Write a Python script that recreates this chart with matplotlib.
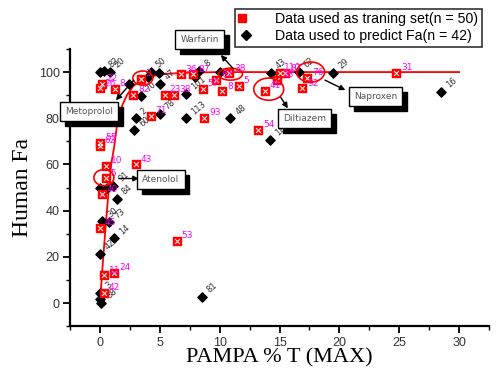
import matplotlib
matplotlib.use("Agg")
import matplotlib.pyplot as plt
from matplotlib.patches import Ellipse
from matplotlib.lines import Line2D
from matplotlib.legend_handler import HandlerTuple
from matplotlib.ticker import MultipleLocator

# ---- data ----
train_x = [0.17, 0.0, 1.25, 0.0, 0.0, 0.5, 3.0, 0.5, 0.17, 0.0, 0.33, 1.2, 0.33, 6.4,
           2.8, 3.4, 5.4, 6.2, 6.75, 7.8, 8.6, 4.25, 8.7, 9.7, 10.2, 11.6, 10.8,
           15.0, 15.5, 14.8, 13.8, 17.3, 16.9, 24.75, 13.2]
train_y = [95, 93, 92.6, 69.5, 68, 59.5, 60, 54, 47, 32.5, 12, 13, 4.3, 27,
           90, 97, 90, 90, 99, 99, 92.6, 81, 80.3, 96.5, 91.7, 94, 99.5,
           99.7, 99.5, 96.5, 92, 97.6, 93, 99.7, 75]
train_lbl = ["22", "26", "8", "55", "62", "10", "43", "5", "40", "45", "11", "24", "42", "53",
             "82", "3", "23", "38", "36", "87", "57", "71", "93", "67", "8", "5", "38",
             "110", "87", "28", "41", "76", "92", "31", "54"]

pred_x = [0.0, 0.3, 0.8, 2.4, 3.4, 3.0, 2.85, 4.25, 4.9, 5.0, 7.2, 7.2, 10.9, 5.0,
          7.9, 8.3, 10.0, 14.3, 16.6, 19.5, 28.5, 14.2, 0.0, 0.6, 1.1, 1.4, 0.17,
          0.75, 1.2, 0.0, 0.0, 0.0, 0.1, 8.5, 4.0]
pred_y = [100, 100.3, 100, 95, 89.7, 80, 74.8, 100, 99.6, 95, 90.5, 80, 80, 82,
          98, 100.5, 100, 99.6, 100, 99.6, 91.4, 70.8, 50, 50, 50.8, 45, 35.4,
          35, 28, 21.3, 4.3, 1.7, 0, 2.8, 98]
pred_lbl = ["", "82", "20", "", "70", "2", "60", "50", "", "47", "101", "113", "48", "78",
            "", "8", "", "43", "62", "29", "16", "18", "", "", "91", "84", "30",
            "73", "14", "42", "3", "", "88", "81", ""]

fit_x = [0, 0.28, 0.58, 0.94, 1.2, 1.5, 1.9, 2.25, 2.8, 3.6, 5, 7, 10, 15, 30]
fit_y = [0, 20, 40, 60, 68, 80, 86, 90, 94, 97, 99, 99.7, 100, 100, 100]

# name, box centre (x, y), arrow tail, arrow head, ellipse centre, ellipse w, h
drugs = [
    ("Warfarin",   (8.33, 113.9), (11.1, 101.7), (10.1, 107.4), (10.9, 99.1), 2.0, 5.2),
    ("Metoprolol", (-0.92, 82.8), (2.83, 96.5), (1.33, 87.8), (3.58, 97.4), 1.67, 6.1),
    ("Atenolol",   (5.1, 53.3), (1.58, 53.9), (3.25, 53.9), (0.33, 54.3), 1.67, 7.0),
    ("Diltiazem",  (17.1, 79.8), (15.1, 89.1), (15.7, 84.3), (14.1, 92.6), 2.5, 9.6),
    ("Naproxen",   (23.0, 89.3), (18.8, 96.5), (20.5, 92.2), (17.6, 100.0), 2.33, 8.7),
]

fig = plt.figure(figsize=(5.0, 3.71), dpi=100)
ax = fig.add_axes([0.14, 0.121, 0.838, 0.747])

# fitted curve
ax.plot(fit_x, fit_y, color="red", lw=1.3, zorder=2)

# prediction set
ax.scatter(pred_x, pred_y, marker="D", s=22, color="black", zorder=3)
for x, y, t in zip(pred_x, pred_y, pred_lbl):
    if t:
        ax.annotate(t, (x, y), xytext=(2.5, 1.5), textcoords="offset points",
                    fontsize=6, color="#333333", rotation=40, ha="left", va="bottom",
                    zorder=4)

# training set
ax.scatter(train_x, train_y, marker="s", s=30, color="red", zorder=5)
ax.scatter(train_x, train_y, marker="x", s=12, color="white", linewidths=0.7, zorder=6)
for x, y, t in zip(train_x, train_y, train_lbl):
    ax.annotate(t, (x, y), xytext=(3.5, 0.5), textcoords="offset points",
                fontsize=6.5, color="#ff00ff", ha="left", va="bottom", zorder=7)

# drug call-outs
for name, (bx, by), tail, head, ec, ew, eh in drugs:
    ax.add_patch(Ellipse(ec, ew, eh, fill=False, edgecolor="red", lw=1.2,
                         zorder=8, clip_on=False))
    ax.annotate("", xy=head, xytext=tail,
                arrowprops=dict(arrowstyle="-|>", color="black", lw=1.0,
                                mutation_scale=8, shrinkA=0, shrinkB=0),
                zorder=9, annotation_clip=False)
    ax.annotate(name, (bx, by), xytext=(3.5, -3.5), textcoords="offset points",
                fontsize=6.5, color="black", ha="center", va="center",
                bbox=dict(boxstyle="square,pad=0.55", fc="black", ec="black"),
                zorder=9, annotation_clip=False)
    ax.annotate(name, (bx, by), fontsize=6.5, color="#555555", ha="center", va="center",
                bbox=dict(boxstyle="square,pad=0.55", fc="white", ec="black", lw=1.0),
                zorder=10, annotation_clip=False)

ax.set_xlim(-2.5, 32.5)
ax.set_ylim(-10, 110)
ax.xaxis.set_minor_locator(MultipleLocator(2.5))
ax.yaxis.set_minor_locator(MultipleLocator(10))
ax.set_xticks([0, 5, 10, 15, 20, 25, 30])
ax.set_yticks([0, 20, 40, 60, 80, 100])
for s in ["top", "right"]:
    ax.spines[s].set_visible(False)
for s in ["left", "bottom"]:
    ax.spines[s].set_linewidth(1.6)
ax.tick_params(which="major", direction="out", length=5, width=1.3,
               labelsize=9, labelcolor="#333333", pad=2.5)
ax.tick_params(which="minor", direction="out", length=3, width=1.0)
for lab in ax.get_xticklabels() + ax.get_yticklabels():
    lab.set_family("Liberation Sans")

ax.set_xlabel("PAMPA % T (MAX)", family="Liberation Serif", fontsize=16, labelpad=0)
ax.set_ylabel("Human Fa", family="Liberation Serif", fontsize=17, labelpad=4)

h_train = (Line2D([], [], marker="s", ls="", color="red", ms=6),
           Line2D([], [], marker="x", ls="", color="white", ms=3.5, mew=0.7))
h_pred = Line2D([], [], marker="D", ls="", color="black", ms=5)
leg = fig.legend([h_train, h_pred],
                 ["Data used as traning set(n = 50)", "Data used to predict Fa(n = 42)"],
                 handler_map={tuple: HandlerTuple(ndivide=None, pad=0)},
                 loc="upper right", bbox_to_anchor=(0.964, 0.976), borderaxespad=0,
                 fancybox=False, frameon=True, edgecolor="black",
                 handlelength=1.0, handletextpad=1.6, borderpad=0.25,
                 labelspacing=0.2, prop={"family": "Liberation Sans", "size": 10.2})
leg.get_frame().set_linewidth(1.2)

fig.savefig("out.png", dpi=100)
